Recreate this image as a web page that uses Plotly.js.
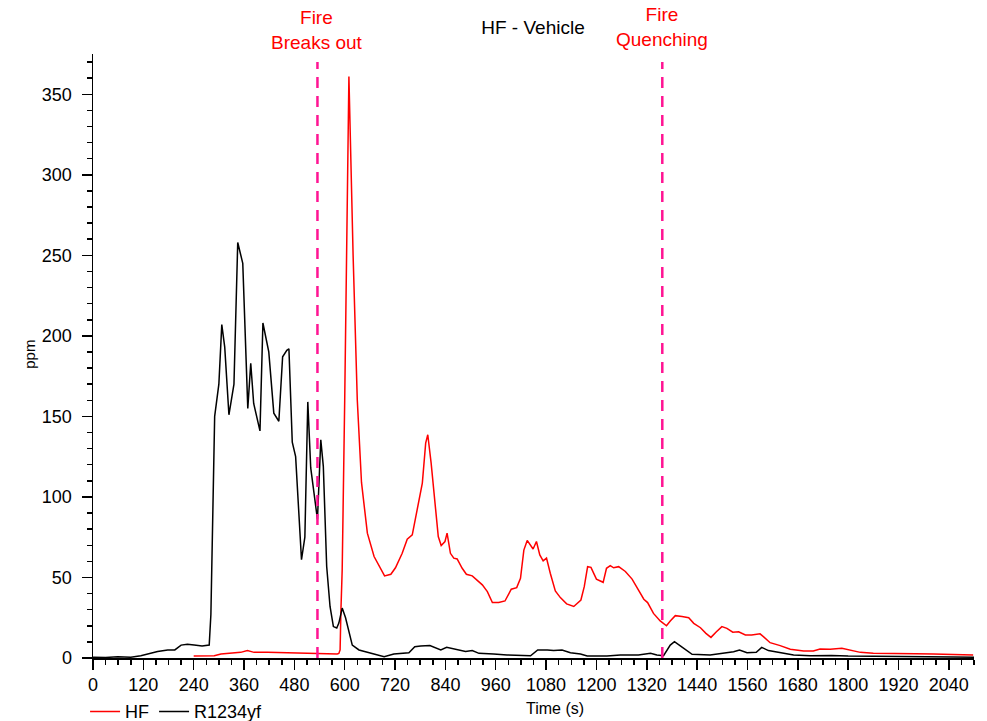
<!DOCTYPE html>
<html>
<head>
<meta charset="utf-8">
<script src="https://cdn.plot.ly/plotly-3.0.1.min.js"></script>
<style>html,body{margin:0;padding:0;background:#fff;}#chart{width:987px;height:721px;}</style>
</head>
<body>
<div id="chart"></div>
<script>
// HF concentration (ppm) vs time (s)
const hfTime = [240,289,305,329,352,368,384,416,455,495,535,582,586,589,591,594,600,605,610,620,630,640,654,670,686,695,710,721,737,749,761,773,785,793,798,806,817,823,830,839,844,852,860,868,880,890,904,916,928,940,952,967,982,997,1010,1019,1027,1035,1049,1057,1065,1073,1081,1090,1102,1114,1129,1146,1163,1171,1179,1187,1200,1216,1224,1233,1241,1253,1269,1285,1301,1313,1322,1336,1352,1367,1376,1388,1404,1420,1432,1448,1461,1473,1486,1499,1511,1525,1539,1555,1570,1590,1598,1614,1638,1662,1694,1717,1733,1757,1785,1805,1829,1860,1890,1924,1960,2003,2050,2098];
const hfPpm  = [1.2,1.4,2.5,2.9,3.5,4.6,3.5,3.5,3.3,2.9,2.5,2.5,2.8,5,30,55,160,248,361,250,160,109,77.5,63,54.7,51,52,56,65,73.8,76.4,92,108.6,133.4,138.6,121,94,75.4,69.8,72.3,77.5,65,62,61.5,55.7,52,51,47.9,45.4,41.2,34.4,34.4,35.4,42.7,43.7,49.5,67,73,67.7,72.3,64,60.3,62,52.6,41.6,37.5,33.6,32,36,44.3,56.7,56.3,49,47,55.7,57.4,56,56.7,53.7,49,42.3,36.5,34.4,27.7,23,20,23,26.3,25.7,25,21.5,18.8,15.3,12.8,16.3,19.5,18.4,16,16.3,14.3,14.3,15,13.3,9.5,7.7,5.4,4.3,4.3,5.6,5.4,6,5,3.5,3,3,2.8,2.6,2.5,2.2,1.9];

// R1234yf concentration (ppm) vs time (s)
const rTime = [0,30,59,90,114,135,154,178,195,210,225,241,260,277,281,290,300,307,314,324,336,345,357,369,376,383,398,405,419,431,443,452,462,467,475,483,497,505,512,519,535,543,549,557,565,573,581,586,594,602,618,634,662,694,717,741,753,767,781,803,817,829,843,864,888,904,920,955,987,1043,1060,1083,1098,1118,1138,1162,1178,1225,1257,1300,1329,1344,1360,1376,1386,1400,1428,1471,1503,1527,1541,1559,1581,1594,1610,1638,1670,1710,1760,1800,1850,1900,1950,2000,2050,2100];
const rPpm  = [0.5,0.3,0.8,0.5,1.4,3,4,5,5,8,8.5,8,7.5,8,27,150,170,207,193,151,170,258,245,155,183,158,141,208,190,152,147,187,191,192,134,125,61,75,159,118,86,135.5,119,57,32,19.5,18.6,21.7,31,25,8,5,3,0.8,2.5,2.9,3.3,7,7.5,7.7,6,5,6.6,5.4,4,4.6,2.9,2.5,1.9,1.4,5,5,4.6,5,3.3,2.5,1.2,1.2,1.9,1.9,2.9,1.9,1.4,8,10.1,7.5,2.3,1.9,2.9,3.9,5,3.3,3.5,6.6,4.6,3.3,1.9,1.4,1.6,1.2,1,0.8,0.8,0.6,0.6,0.5];

// event markers
const eventTimes = [535, 1357];
const eventLabels = ["Fire<br>Breaks out", "Fire<br>Quenching"];

const xTicks = [0,120,240,360,480,600,720,840,960,1080,1200,1320,1440,1560,1680,1800,1920,2040];
const yTicks = [0,50,100,150,200,250,300,350];

const FONT = "Arial, 'Liberation Sans', sans-serif";

const traces = [
  {x: hfTime, y: hfPpm, name: "HF", type: "scatter", mode: "lines",
   line: {color: "#ff0000", width: 1.5}},
  {x: rTime, y: rPpm, name: "R1234yf", type: "scatter", mode: "lines",
   line: {color: "#000000", width: 1.5}}
];

const shapes = eventTimes.map(t => ({
  type: "line", xref: "x", yref: "y", x0: t, x1: t, y0: 0, y1: 370,
  line: {color: "#ff1493", width: 2.5, dash: "11px,8px"}
}));

const annotations = [
  {xref: "x", yref: "paper", x: eventTimes[0], y: 1.039, text: eventLabels[0],
   showarrow: false, xanchor: "center", yanchor: "middle",
   font: {family: FONT, size: 19, color: "#ff0000"}},
  {xref: "x", yref: "paper", x: eventTimes[1], y: 1.044, text: eventLabels[1],
   showarrow: false, xanchor: "center", yanchor: "middle",
   font: {family: FONT, size: 19, color: "#ff0000"}},
  {xref: "paper", yref: "paper", x: 0.524, y: -0.083, text: "Time (s)",
   showarrow: false, xanchor: "center", yanchor: "middle",
   font: {family: FONT, size: 16, color: "#000"}},
  {xref: "paper", yref: "paper", x: -0.0715, y: 0.502, text: "ppm", textangle: -90,
   showarrow: false, xanchor: "center", yanchor: "middle",
   font: {family: FONT, size: 15, color: "#000"}}
];

const layout = {
  width: 987, height: 721,
  margin: {l: 93, r: 13, t: 54, b: 63, autoexpand: false},
  paper_bgcolor: "#fff", plot_bgcolor: "#fff",
  font: {family: FONT, size: 18, color: "#000"},
  title: {text: "HF - Vehicle", x: 0.54, xref: "container", xanchor: "center",
          y: 1 - 27/721, yref: "container", yanchor: "middle",
          font: {family: FONT, size: 19, color: "#000"}},
  showlegend: true,
  legend: {orientation: "h", x: -0.009, xanchor: "left", y: -0.089, yanchor: "middle",
           font: {family: FONT, size: 18, color: "#000"}, bgcolor: "rgba(0,0,0,0)",
           itemwidth: 30, tracegroupgap: 0},
  xaxis: {range: [0, 2100], tickmode: "array", tickvals: xTicks, ticktext: xTicks.map(String),
          ticks: "outside", ticklen: 10, tickwidth: 1.5, tickcolor: "#000", automargin: false,
          showline: true, linecolor: "#000", linewidth: 1.5, mirror: false,
          showgrid: false, zeroline: false, tickfont: {family: FONT, size: 18},
          minor: {dtick: 30, tick0: 0, ticks: "outside", ticklen: 5, tickwidth: 1.5, tickcolor: "#000", showgrid: false}},
  yaxis: {range: [0, 375], tickmode: "array", tickvals: yTicks, ticktext: yTicks.map(String),
          ticks: "outside", ticklen: 10, tickwidth: 1.5, tickcolor: "#000", automargin: false,
          showline: true, linecolor: "#000", linewidth: 1.5, mirror: false,
          showgrid: false, zeroline: false, tickfont: {family: FONT, size: 18},
          ticklabelstandoff: 6,
          minor: {dtick: 10, tick0: 0, ticks: "outside", ticklen: 5, tickwidth: 1.5, tickcolor: "#000", showgrid: false}},
  shapes: shapes,
  annotations: annotations
};

Plotly.newPlot("chart", traces, layout, {displayModeBar: false, staticPlot: true});
</script>
</body>
</html>
